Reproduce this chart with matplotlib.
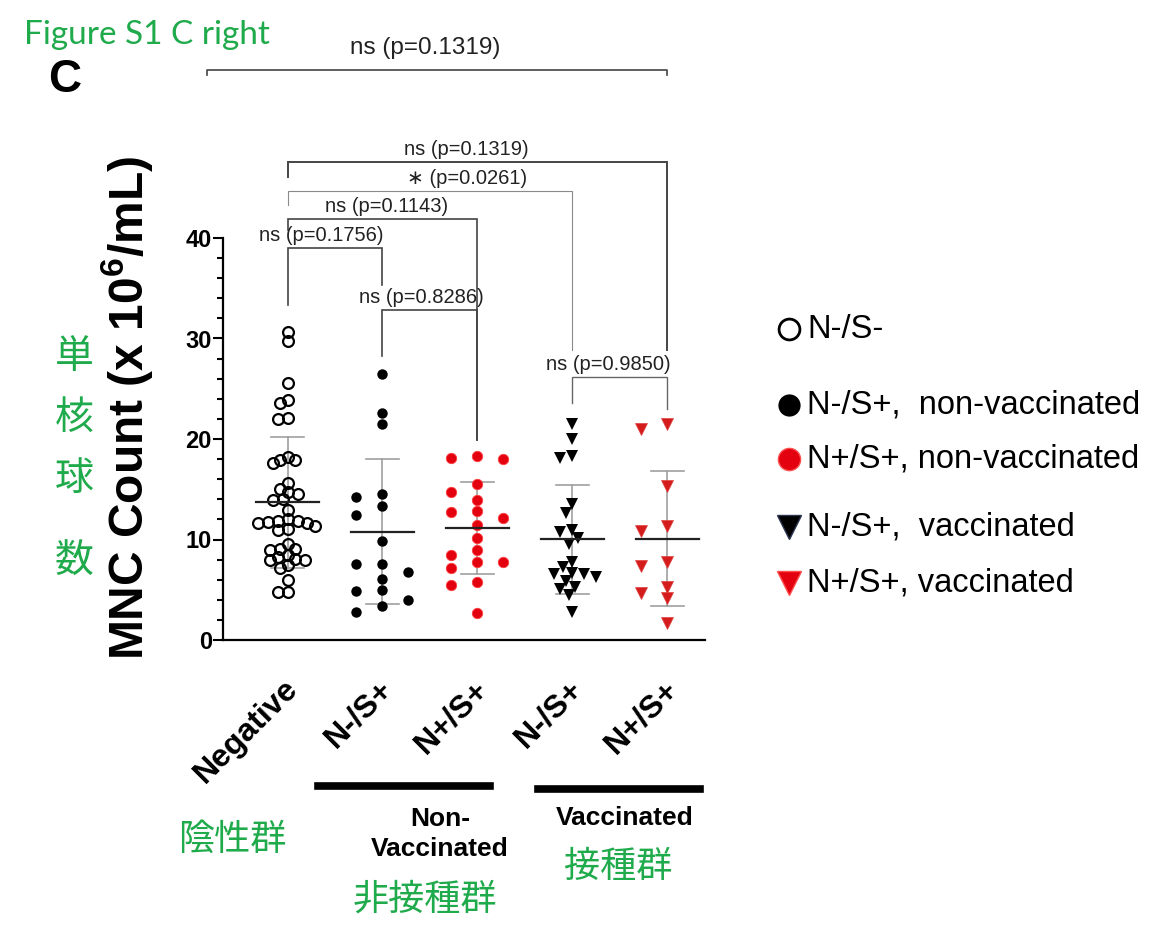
import numpy as np
import matplotlib
matplotlib.use("Agg")
import matplotlib.pyplot as plt
from matplotlib.lines import Line2D
from matplotlib.transforms import ScaledTranslation

plt.rcParams['font.family'] = ['Liberation Sans', 'DejaVu Sans']
plt.rcParams['mathtext.fontset'] = 'custom'
plt.rcParams['mathtext.rm'] = 'Liberation Sans'
plt.rcParams['mathtext.bf'] = 'Liberation Sans:bold'

# data (MNC count, x10^6/mL)
groups = ['Negative', 'N-/S+', 'N+/S+', 'N-/S+', 'N+/S+']
negative = [30.6, 29.8, 25.6, 23.9, 23.6, 22.1, 22.0, 18.2, 17.9, 17.9, 17.6,
            15.6, 15.0, 14.7, 14.5, 14.0, 13.9, 12.9, 12.0, 11.8, 11.8, 11.7,
            11.6, 11.6, 11.3, 11.0, 10.9, 9.6, 9.1, 9.1, 9.0, 8.5, 8.3, 8.1,
            8.0, 8.0, 7.5, 7.2, 6.0, 4.8, 4.8]
nonvac_ns = [26.5, 22.6, 21.5, 14.5, 14.2, 13.3, 12.4, 9.9, 7.6, 7.6, 6.8,
             6.1, 5.0, 4.9, 4.0, 3.4, 2.8]
nonvac_np = [18.3, 18.1, 18.0, 15.5, 14.7, 13.9, 12.8, 12.7, 12.1, 11.4,
             10.1, 9.0, 8.5, 7.8, 7.8, 7.2, 5.8, 5.5, 2.7]
vac_ns = [21.5, 20.0, 18.3, 18.1, 13.5, 12.6, 10.9, 10.7, 10.1, 9.6, 7.8,
          7.3, 6.7, 6.6, 6.6, 6.3, 5.9, 5.3, 5.1, 4.5, 2.8]
vac_np = [21.5, 21.0, 15.3, 11.3, 10.8, 7.8, 7.4, 5.3, 4.7, 4.2, 1.7]

p_labels = ['ns (p=0.1756)', 'ns (p=0.1143)', '\u2217 (p=0.0261)',
            'ns (p=0.1319)', 'ns (p=0.8286)', 'ns (p=0.9850)']
p_top = 'ns (p=0.1319)'

W, H = 1164, 947
fig = plt.figure(figsize=(W / 100, H / 100), dpi=100)


def fxy(px, py):
    return px / W, 1 - py / H


ax = fig.add_axes([223 / W, 1 - 640 / H, 482 / W, 402 / H])
ax.set_xlim(-0.679, 4.395)
ax.set_ylim(0, 40)
XPX = 95.0     # pixels per x unit
YPX = 10.05    # pixels per y unit


def swarm(vals, step, dist):
    placed = []
    offs = []
    order = [0] + [s * k for k in range(1, 40) for s in (-1, 1)]
    for v in vals:
        yp = v * YPX
        for k in order:
            xp = k * step
            if all((xp - a) ** 2 + (yp - b) ** 2 >= dist ** 2 for a, b in placed):
                break
        placed.append((xp, yp))
        offs.append(xp / XPX)
    return np.array(offs)


series = [
    (negative, dict(marker='o', ms=7.8, mfc='none', mec='black', mew=1.6), 2.5, 8.0),
    (nonvac_ns, dict(marker='o', ms=7.5, mfc='black', mec='black', mew=0), 26, 10.5),
    (nonvac_np, dict(marker='o', ms=7.5, mfc='#e3000f', mec='#ff4040', mew=0.6), 26, 10.5),
    (vac_ns, dict(marker='v', ms=8.5, mfc='black', mec='black', mew=0), 3.0, 10.0),
    (vac_np, dict(marker='v', ms=8.5, mfc='#d41c1c', mec='#e04040', mew=0.5), 26, 10.5),
]

for i, (vals, style, step, dist) in enumerate(series):
    vals = np.array(vals)
    xs = i + swarm(vals, step, dist)
    m, sd = vals.mean(), vals.std(ddof=1)
    ax.plot([i, i], [m - sd, m + sd], color='#a0a0a0', lw=1.2, zorder=1)
    ax.plot([i - 0.17, i + 0.17], [m + sd] * 2, color='#a0a0a0', lw=1.2, zorder=1)
    ax.plot([i - 0.17, i + 0.17], [m - sd] * 2, color='#a0a0a0', lw=1.2, zorder=1)
    ax.plot(xs, vals, ls='none', zorder=2, **style)
    ax.plot([i - 0.33, i + 0.33], [m, m], color='#222222', lw=1.6, zorder=3)

# axes styling
for s in ['top', 'right']:
    ax.spines[s].set_visible(False)
for s in ['left', 'bottom']:
    ax.spines[s].set_linewidth(1.6)
ax.set_yticks([0, 10, 20, 30, 40])
ax.set_yticks(np.arange(0, 41, 2), minor=True)
ax.tick_params(axis='y', which='major', length=7, width=1.5, labelsize=17, pad=1)
ax.tick_params(axis='y', which='minor', length=4.5, width=1.5)
for lab in ax.get_yticklabels():
    lab.set_fontweight('bold')

ax.set_xticks(range(len(groups)))
ax.set_xticklabels(groups, rotation=45, ha='right', va='center',
                   rotation_mode='anchor', fontsize=23, fontweight='bold')
ax.tick_params(axis='x', length=0, pad=32)
for lab in ax.get_xticklabels():
    lab.set_transform(lab.get_transform() + ScaledTranslation(6 / 100, 0, fig.dpi_scale_trans))

# significance brackets: (x1, x2, y, left leg bottom, right leg bottom, text x, color, lw)
brk = [
    (0, 1, 39.0, 33.3, 35.3, 0.36, '#444444', 1.2),
    (0, 2, 41.9, 40.8, 19.9, 1.04, '#444444', 1.2),
    (0, 3, 44.7, 43.3, 28.9, 1.89, '#8a8a8a', 0.8),
    (0, 4, 47.6, 46.1, 28.9, 1.88, '#444444', 1.4),
    (1, 2, 32.8, 28.3, 19.9, 1.41, '#444444', 1.2),
    (3, 4, 26.2, 23.6, 23.0, 3.38, '#666666', 1.0),
]
for (x1, x2, y, lb, rb, tx, c, lw), lab in zip(brk, p_labels):
    ax.plot([x1, x1, x2, x2], [lb, y, y, rb], color=c, lw=lw, clip_on=False,
            solid_joinstyle='miter')
    ax.text(tx, y + 1.25, lab, ha='center', va='center', fontsize=14.5,
            color='#222222', clip_on=False)

# top bracket
ax.plot([-0.847, -0.847, 4.0, 4.0], [56.2, 56.7, 56.7, 56.2], color='#444444',
        lw=1.2, clip_on=False)
ax.text(1.45, 58.9, p_top, ha='center', va='center', fontsize=17.5, color='#222222',
        clip_on=False)

# y label
fig.text(*fxy(127, 408), r'MNC Count (x 10$^{\mathbf{6}}$/mL)', rotation=90,
         ha='center', va='center', fontsize=34.5, fontweight='bold')

# panel letter and title
fig.text(*fxy(65, 80), 'C', ha='center', va='center', fontsize=33, fontweight='bold')
green = '#1faa4b'
fig.text(*fxy(24, 35), 'Figure S1 C right', ha='left', va='center', fontsize=24,
         color=green, family=['Lato', 'DejaVu Sans'])

# group underlines and labels
fig.add_artist(Line2D([318 / W, 490 / W], [1 - 786 / H] * 2, color='black', lw=5.5))
fig.add_artist(Line2D([538 / W, 700 / W], [1 - 789 / H] * 2, color='black', lw=5.5))
fig.text(*fxy(440, 834), 'Non-\nVaccinated', ha='center', va='center', fontsize=19,
         fontweight='bold', linespacing=1.3)
fig.text(*fxy(625, 818), 'Vaccinated', ha='center', va='center', fontsize=19,
         fontweight='bold')

cjk = ['Noto Sans CJK JP', 'DejaVu Sans']
fig.text(*fxy(232, 840), '陰性群', ha='center', va='center', fontsize=26, color=green, family=cjk)
fig.text(*fxy(425, 900), '非接種群', ha='center', va='center', fontsize=26, color=green, family=cjk)
fig.text(*fxy(618, 867), '接種群', ha='center', va='center', fontsize=26, color=green, family=cjk)
for ch, py in zip('単核球数', [357, 418, 479, 562]):
    fig.text(*fxy(74, py), ch, ha='center', va='center', fontsize=28, color=green, family=cjk)

# legend
leg_items = [
    (dict(marker='o', ms=15, mfc='none', mec='black', mew=2), 'N-/S-', 329),
    (dict(marker='o', ms=16, mfc='black', mec='black', mew=0), 'N-/S+,  non-vaccinated', 405),
    (dict(marker='o', ms=16, mfc='#e3000f', mec='#ff5050', mew=1), 'N+/S+, non-vaccinated', 459),
    (dict(marker='v', ms=17, mfc='black', mec='#2a3550', mew=1), 'N-/S+,  vaccinated', 527),
    (dict(marker='v', ms=17, mfc='#e3000f', mec='#ff5050', mew=1), 'N+/S+, vaccinated', 583),
]
for style, text, py in leg_items:
    fig.add_artist(Line2D([789 / W], [1 - py / H], ls='none', **style))
    fig.text(*fxy(807, py), text, ha='left', va='center', fontsize=23.5)

fig.savefig('out.png', dpi=100)
